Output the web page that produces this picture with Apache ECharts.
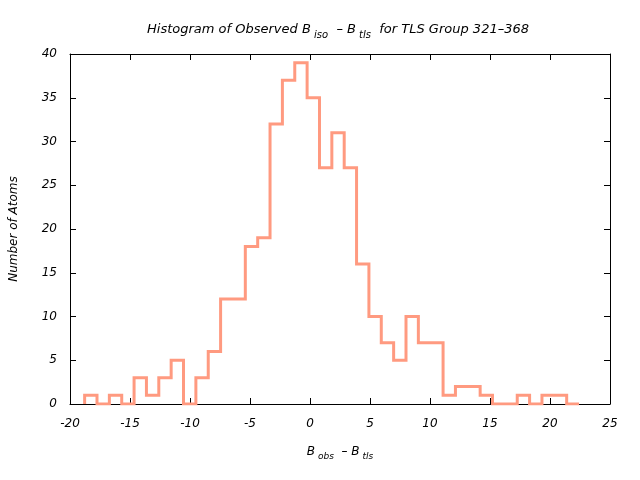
<!DOCTYPE html>
<html>
<head>
<meta charset="utf-8">
<script src="https://cdn.jsdelivr.net/npm/echarts@6/dist/echarts.min.js"></script>
<style>html,body{margin:0;padding:0;background:#fff}#c{width:640px;height:480px}</style>
</head>
<body>
<div id="c"></div>
<script>
// Histogram bin settings and counts
var binStart = -18.78;
var binWidth = 1.03;
var counts = [1,0,1,0,3,1,3,5,0,3,6,12,12,18,19,32,37,39,35,27,31,27,16,10,7,5,10,7,7,1,2,2,1,0,0,1,0,1,1,0];
var xTicks = [-20, 25, 5];   // min, max, interval
var yTicks = [0, 40, 5];

var pts = [[binStart, 0]];
for (var i = 0; i < counts.length; i++) {
  pts.push([binStart + i * binWidth, counts[i]]);
}
pts.push([binStart + counts.length * binWidth, counts[counts.length - 1]]);

var FONT = 'DejaVu Sans';
function rich(sz, subsz, pad) {
  return {
    i: {fontFamily: FONT, fontStyle: 'italic', fontWeight: 'normal', fontSize: sz, color: '#000', height: 16, verticalAlign: 'top'},
    s: {fontFamily: FONT, fontStyle: 'italic', fontWeight: 'normal', fontSize: subsz, color: '#000', height: 16, padding: [pad, 0, 0, 0], verticalAlign: 'top'}
  };
}
var axisCommon = {
  axisLine: {show: true, onZero: false, lineStyle: {color: '#000', width: 1}},
  axisTick: {show: true, inside: true, length: 6, lineStyle: {color: '#000'}},
  splitLine: {show: false}
};
var chart = echarts.init(document.getElementById('c'), null, {renderer: 'canvas'});
chart.setOption({
  animation: false,
  backgroundColor: '#fff',
  title: {
    text: '{i|Histogram of Observed B}{s| iso}{i|  – B}{s| tls}{i|  for TLS Group 321–368}',
    left: 333, top: 17, textAlign: 'center',
    textStyle: {fontWeight: 'normal', rich: rich(13, 10, 5)}
  },
  grid: {left: 68, right: 30, top: 54, bottom: 76, containLabel: false},
  xAxis: [
    Object.assign({
      type: 'value', min: xTicks[0], max: xTicks[1], interval: xTicks[2], position: 'bottom',
      axisLabel: {fontFamily: FONT, fontStyle: 'italic', fontSize: 12, color: '#000', margin: 14},
      name: '{i|B}{s| obs}{i|  – B}{s| tls}',
      nameLocation: 'middle', nameGap: 40,
      nameTextStyle: {rich: rich(12, 9, 5)}
    }, axisCommon),
    Object.assign({
      type: 'value', min: xTicks[0], max: xTicks[1], interval: xTicks[2], position: 'top',
      axisLabel: {show: false}
    }, axisCommon)
  ],
  yAxis: [
    Object.assign({
      type: 'value', min: yTicks[0], max: yTicks[1], interval: yTicks[2], position: 'left',
      axisLabel: {fontFamily: FONT, fontStyle: 'italic', fontSize: 12, color: '#000', margin: 13},
      name: 'Number of Atoms', nameLocation: 'middle', nameGap: 50,
      nameTextStyle: {fontFamily: FONT, fontStyle: 'italic', fontSize: 12, color: '#000'}
    }, axisCommon),
    Object.assign({
      type: 'value', min: yTicks[0], max: yTicks[1], interval: yTicks[2], position: 'right',
      axisLabel: {show: false}
    }, axisCommon)
  ],
  series: [{
    type: 'line', step: 'end', data: pts, showSymbol: false, symbol: 'none',
    xAxisIndex: 0, yAxisIndex: 0,
    lineStyle: {color: '#ff9a80', width: 3, join: 'miter'}
  }]
});
</script>
</body>
</html>
